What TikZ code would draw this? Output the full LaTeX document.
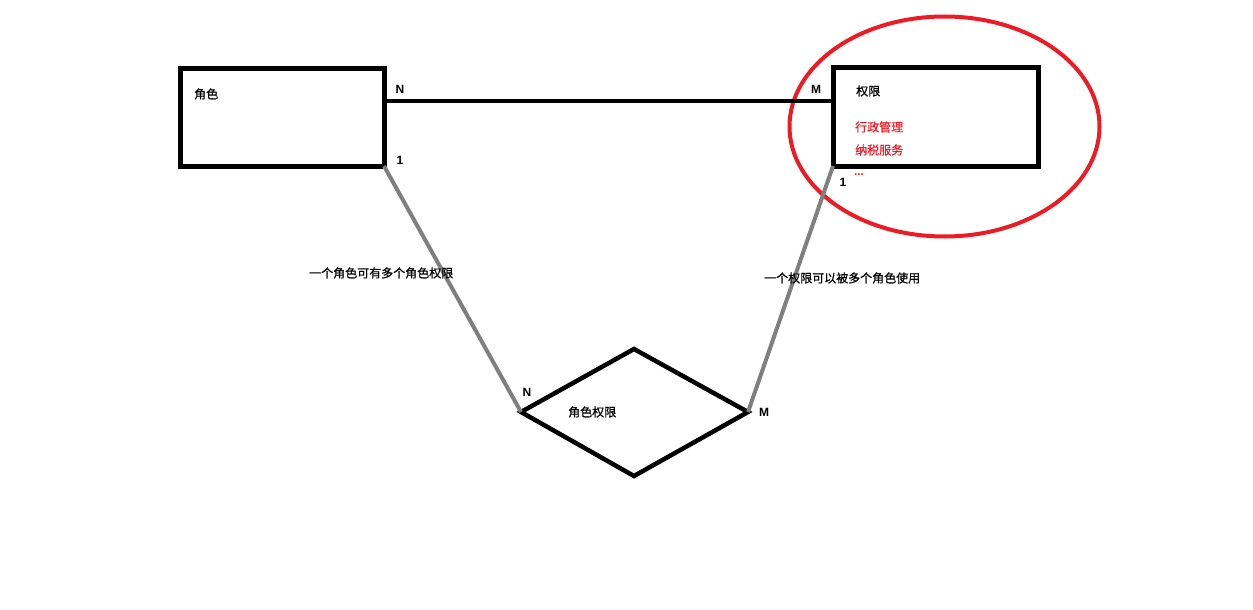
\documentclass[tikz,border=0pt]{standalone}
\usepackage{fontspec}
\usetikzlibrary{shapes.geometric}
\setmainfont{Liberation Sans}
\newfontfamily\cjk[FakeBold=0.8]{Noto Sans CJK SC}
\definecolor{mspred}{RGB}{237,28,36}
\definecolor{mspgray}{RGB}{127,127,127}
\begin{document}
\begin{tikzpicture}[x=1pt,y=-1pt,
  ent/.style={draw=black,line width=5pt,minimum width=#1,inner sep=0pt,outer sep=0pt},
  lbl/.style={font=\fontsize{12}{12}\selectfont\cjk,inner sep=0pt,anchor=west},
  card/.style={font=\fontsize{12}{12}\selectfont\bfseries,inner sep=0pt},
  rel/.style={draw=black,line width=4.5pt,line join=miter},
  link/.style={draw=mspgray,line width=4pt},
]
\useasboundingbox (0,0) rectangle (1253,610);
% entities
\node[ent=204pt,minimum height=97pt] (b1) at (282,117.5) {};
\node[ent=205pt,minimum height=98pt] (b2) at (935.5,117) {};
% red ellipse
\node[draw=mspred,line width=4pt,ellipse,minimum width=310pt,minimum height=220pt,inner sep=0pt] (hl) at (944.5,126.5) {};
% diamond vertices
\coordinate (dl) at (521,412);
\coordinate (dt) at (634,349);
\coordinate (dr) at (748,412);
\coordinate (db) at (634,476);
\draw[rel] (dl) -- (dt) -- (dr) -- (db) -- cycle;
% connectors
\coordinate (hy) at (0,101);
\draw[draw=black,line width=4.5pt] (b1.east |- hy) -- (b2.west |- hy);
\draw[link] (b1.south east) -- (dl);
\draw[link] (b2.south west) -- (dr);
% texts
\node[lbl] (t1) at (194,94) {角色};
\node[lbl] (t2) at (856,91) {权限};
\node[lbl,text=mspred] (t3) at (855,127) {行政管理};
\node[lbl,text=mspred] (t4) at (855,150) {纳税服务};
\node[card,text=mspred] (t5) at (859,175) {...};
\node[lbl] (t6) at (568,412) {角色权限};
\node[lbl] (t7) at (309,273) {一个角色可有多个角色权限};
\node[lbl] (t8) at (764,278) {一个权限可以被多个角色使用};
% cardinalities
\node[card] (c1) at (400,89) {N};
\node[card] (c2) at (816,89) {M};
\node[card] (c3) at (400,160) {1};
\node[card] (c4) at (843,182) {1};
\node[card] (c5) at (527,392) {N};
\node[card] (c6) at (764,412) {M};
\end{tikzpicture}
\end{document}
